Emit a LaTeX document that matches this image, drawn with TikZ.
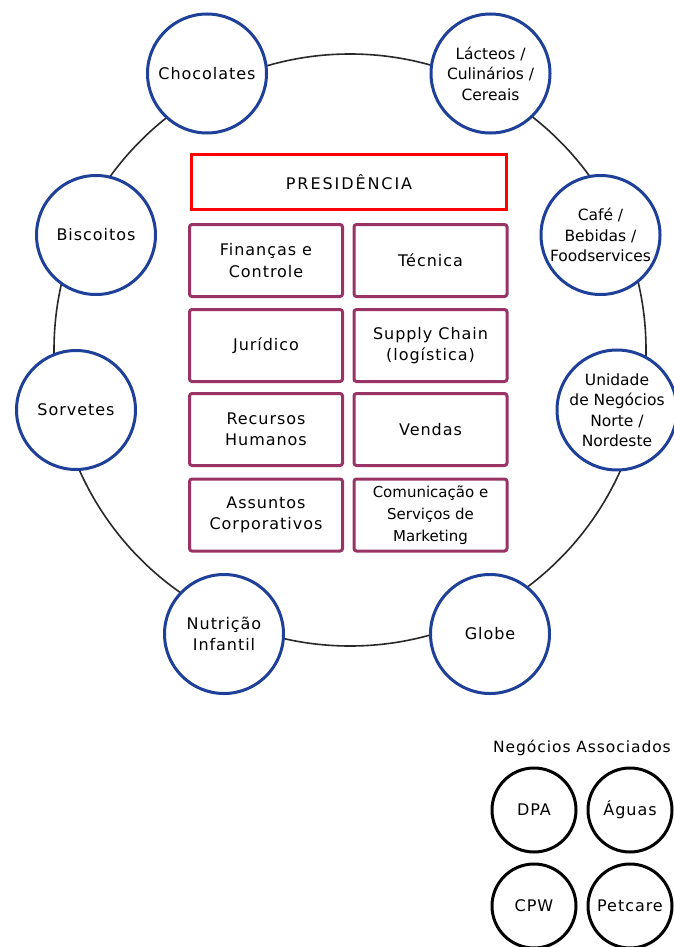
\documentclass[tikz,border=0pt]{standalone}
\usepackage{fontspec}
\setmainfont{DejaVu Sans}
\newfontfamily\spfont[LetterSpace=6]{DejaVu Sans}
\newfontfamily\wideFont[LetterSpace=12]{DejaVu Sans}
\definecolor{ringblue}{RGB}{31,64,153}
\definecolor{plum}{RGB}{153,51,102}
\definecolor{ringgray}{RGB}{40,40,40}
\begin{document}
\begin{tikzpicture}[x=1pt,y=-1pt,
  biz/.style={circle, draw=ringblue, line width=3pt, fill=white, minimum size=119pt,
    inner sep=0pt, align=center, font=\spfont\fontsize{16}{21}\selectfont},
  biztight/.style={biz, font=\rmfamily\fontsize{15.5}{20.5}\selectfont},
  dept/.style={draw=plum, line width=3pt, rounded corners=2.5pt, fill=white,
    minimum width=153pt, minimum height=72pt, inner sep=0pt, align=center,
    font=\spfont\fontsize{16}{21.5}\selectfont},
  depttight/.style={dept, font=\rmfamily\fontsize{15}{22}\selectfont},
  presbox/.style={draw=red, line width=3pt, fill=white, minimum width=315pt,
    minimum height=55pt, inner sep=0pt, font=\wideFont\fontsize{16}{18}\selectfont},
  assoc/.style={circle, draw=black, line width=3pt, fill=white, minimum size=84pt,
    inner sep=0pt, align=center, font=\spfont\fontsize{16}{18}\selectfont},
  ringline/.style={draw=ringgray, line width=1.6pt}]
\useasboundingbox (0,0) rectangle (674,947);
\fill[white] (0,0) rectangle (674,947);

% ring
\coordinate (ringc) at (350,350);
\draw[ringline] (ringc) circle[radius=296pt];

% business circles
\node[biz] (choc) at (207,73.5) {Chocolates};
\node[biztight] (lact) at (490.5,73.5) {Lácteos /\\Culinários /\\Cereais};
\node[biz] (bisc) at (96,235) {Biscoitos};
\node[biztight] (cafe) at (600.5,235) {Café /\\Bebidas /\\Foodservices};
\node[biz] (sorv) at (76,410) {Sorvetes};
\node[biztight] (unid) at (617,410) {Unidade\\de Negócios\\Norte /\\Nordeste};
\node[biz] (nutr) at (224,634) {Nutrição\\Infantil};
\node[biz] (glob) at (490,634) {Globe};

% presidency and departments
\node[presbox] (pres) at (349,182) {PRESIDÊNCIA};
\node[dept] (fin) at (266,260.5) {Finanças e\\Controle};
\node[dept] (tec) at (430.5,260.5) {Técnica};
\node[dept] (jur) at (266,345.5) {Jurídico};
\node[dept] (sup) at (430.5,345.5) {Supply Chain\\(logística)};
\node[dept] (rh) at (266,429.5) {Recursos\\Humanos};
\node[dept] (ven) at (430.5,429.5) {Vendas};
\node[dept] (ass) at (266,515) {Assuntos\\Corporativos};
\node[depttight] (com) at (430.5,515) {Comunicação e\\Serviços de\\Marketing};

% associated businesses
\node[font=\spfont\fontsize{15.5}{18}\selectfont] (title) at (582,748) {Negócios Associados};
\node[assoc] (dpa) at (534,810) {DPA};
\node[assoc] (agu) at (630,810) {Águas};
\node[assoc] (cpw) at (534,906) {CPW};
\node[assoc] (pet) at (630,906) {Petcare};
\end{tikzpicture}
\end{document}
